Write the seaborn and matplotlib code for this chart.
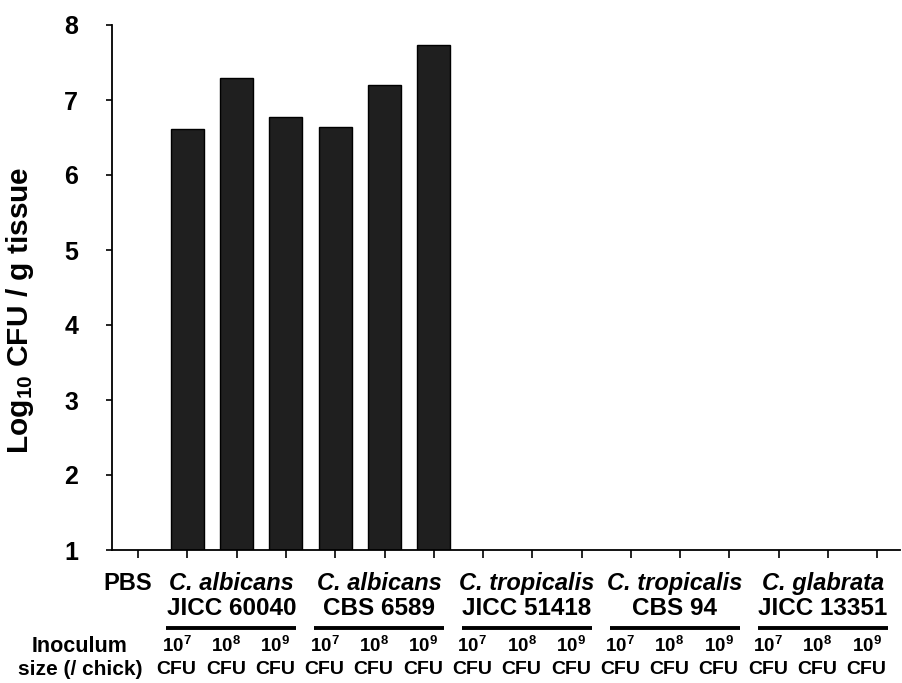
"""Fungal burden in chick tissue after inoculation with Candida strains."""

import matplotlib.pyplot as plt
import numpy as np
import pandas as pd
import seaborn as sns


SPECIES = ["C. albicans", "C. albicans", "C. tropicalis", "C. tropicalis", "C. glabrata"]
STRAINS = ["JICC 60040", "CBS 6589", "JICC 51418", "CBS 94", "JICC 13351"]
DOSE_EXPONENTS = [7, 8, 9]
# log10 CFU / g tissue, PBS first, then 3 doses per strain (NaN = no bar)
LOG_CFU = [
    np.nan,
    6.61, 7.29, 6.78,
    6.64, 7.20, 7.73,
    np.nan, np.nan, np.nan,
    np.nan, np.nan, np.nan,
    np.nan, np.nan, np.nan,
]

BAR_COLOR = "#1f1f1f"
LABEL_SHIFT = -0.22   # text labels sit a bit left of the ticks
GROUP_SHIFT = -0.11
ROW_Y = {"species": -0.063, "strain": -0.112, "line": -0.149, "dose": -0.183, "cfu": -0.227}


def build_frame() -> pd.DataFrame:
    slots = ["PBS"] + [f"{s} 10^{e}" for s in STRAINS for e in DOSE_EXPONENTS]
    return pd.DataFrame({"slot": slots, "log_cfu": LOG_CFU})


def main() -> None:
    sns.set_theme(style="ticks")
    plt.rcParams["font.family"] = ["Liberation Sans", "DejaVu Sans"]
    plt.rcParams["font.weight"] = "bold"
    plt.rcParams["mathtext.fontset"] = "custom"
    plt.rcParams["mathtext.bf"] = "Liberation Sans:bold"
    plt.rcParams["mathtext.rm"] = "Liberation Sans:bold"
    plt.rcParams["mathtext.default"] = "bf"
    for key in ["text.color", "axes.labelcolor", "xtick.color", "ytick.color", "axes.edgecolor"]:
        plt.rcParams[key] = "black"

    df = build_frame()
    fig = plt.figure(figsize=(9.02, 6.83), dpi=100)
    ax = fig.add_axes([112 / 902, 1 - 550 / 683, 788 / 902, 525 / 683])

    sns.barplot(
        data=df, x="slot", y="log_cfu", order=list(df["slot"]),
        color=BAR_COLOR, saturation=1, edgecolor="black", linewidth=1,
        width=0.67, ax=ax,
    )
    ax.set_ylim(1, 8)
    ax.set_xlim(-0.53, len(df) - 0.54)
    ax.set_yticks(range(1, 9))
    ax.set_xticks(range(len(df)))
    ax.set_xlabel("")
    ax.set_ylabel(r"Log$_{10}$ CFU / g tissue", fontsize=21.5, fontweight="bold")
    ax.yaxis.set_label_coords(-0.096, 0.457)
    ax.tick_params(axis="x", labelbottom=False, length=5.8, width=1.2)
    ax.tick_params(axis="y", length=4.3, width=1.2, pad=20, labelsize=18)
    for lab in ax.get_yticklabels():
        lab.set_fontweight("bold")
    for side in ["left", "bottom"]:
        ax.spines[side].set_linewidth(1.3)
    sns.despine(ax=ax)

    xt = ax.get_xaxis_transform()
    ax.text(LABEL_SHIFT, ROW_Y["species"], "PBS", transform=xt, ha="center",
            va="center", fontsize=17, fontweight="bold")
    for k, (species, strain) in enumerate(zip(SPECIES, STRAINS)):
        center = 3 * k + 2 + GROUP_SHIFT
        ax.text(center, ROW_Y["species"], species, transform=xt, ha="center",
                va="center", fontsize=17, fontweight="bold", style="italic")
        ax.text(center, ROW_Y["strain"], strain, transform=xt, ha="center",
                va="center", fontsize=17.5, fontweight="bold")
        ax.plot([center - 1.32, center + 1.32], [ROW_Y["line"]] * 2, transform=xt,
                color="black", lw=2.8, clip_on=False, solid_capstyle="butt")
        for j, e in enumerate(DOSE_EXPONENTS):
            x = 3 * k + 1 + j + LABEL_SHIFT
            ax.text(x, ROW_Y["dose"], rf"$10^{{{e}}}$", transform=xt, ha="center",
                    va="center", fontsize=13.5)
            ax.text(x, ROW_Y["cfu"], "CFU", transform=xt, ha="center",
                    va="center", fontsize=14, fontweight="bold")

    ax.text(-0.0406, ROW_Y["dose"], "Inoculum", transform=ax.transAxes,
            ha="center", va="center", fontsize=15.5, fontweight="bold")
    ax.text(-0.0406, ROW_Y["cfu"], "size (/ chick)", transform=ax.transAxes,
            ha="center", va="center", fontsize=15, fontweight="bold")

    fig.savefig("out.png", dpi=100)
    plt.close(fig)


if __name__ == "__main__":
    main()
